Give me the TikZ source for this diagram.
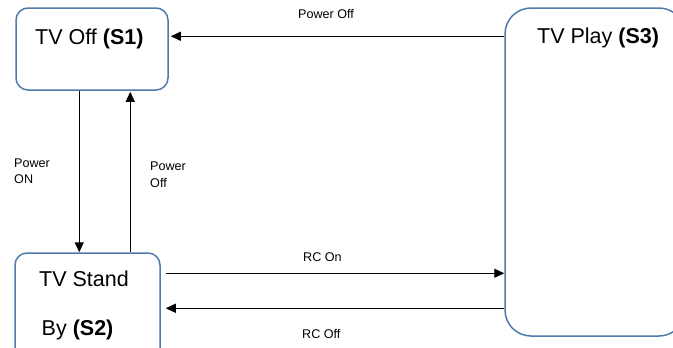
\documentclass[tikz,border=0pt]{standalone}
\usepackage{fontspec}
\setmainfont{Liberation Sans}
\usetikzlibrary{arrows.meta,calc}
\definecolor{boxblue}{RGB}{79,123,170}
\tikzset{
  statebox/.style={draw=boxblue,line width=1.5pt,rounded corners=12pt,inner sep=0pt},
  trans/.style={-{Triangle[length=10pt,width=9pt]},line width=1.4pt},
  bigtext/.style={inner sep=0pt,font=\fontsize{21.5}{26}\selectfont},
  smalltext/.style={inner sep=0pt,align=left,font=\fontsize{12.6}{16.4}\selectfont}
}
\begin{document}
\begin{tikzpicture}[x=1pt,y=-1pt]
\useasboundingbox (0,0) rectangle (673,348);
% states
\node[statebox,minimum width=152pt,minimum height=82pt] (s1) at (92,49) {};
\node[statebox,minimum width=145pt,minimum height=110pt] (s2) at (87.5,308) {};
\node[statebox,rounded corners=26pt,minimum width=180pt,minimum height=328pt] (s3) at (595,172) {};
\node[bigtext,anchor=base west] (s1name) at (35,44) {TV Off \textbf{(S1)}};
\node[bigtext,anchor=base west] (s2name) at (39,286) {TV Stand};
\node[bigtext,anchor=base west] (s2name2) at (41.5,335) {By \textbf{(S2)}};
\node[bigtext,anchor=base west] (s3name) at (537,43.5) {TV Play \textbf{(S3)}};

% transitions
\coordinate (offtop) at ($(s3.north west)+(0,29)$);
\draw[trans,shorten >=2pt] (offtop) -- (offtop -| s1.east);
\coordinate (onsrc) at ($(s1.south west)+(64,0)$);
\draw[trans] (onsrc) -- (onsrc |- s2.north);
\coordinate (offsrc) at ($(s2.north west)+(116,0)$);
\draw[trans,shorten >=1pt] (offsrc) -- (offsrc |- s1.south);
\coordinate (rconsrc) at ($(s2.north east)+(5,21)$);
\draw[trans] (rconsrc) -- (rconsrc -| s3.west);
\coordinate (rcoffsrc) at ($(s3.north west)+(0,301)$);
\draw[trans,shorten >=5pt] (rcoffsrc) -- (rcoffsrc -| s2.east);

% labels
\node[smalltext,anchor=base west] (offtoplab) at (298,19) {Power Off};
\node[smalltext,anchor=north west] (onlab) at (14,158.5) {Power\\ON};
\node[smalltext,anchor=north west] (offlab) at (150,162) {Power\\Off};
\node[smalltext,anchor=base west] (rconlab) at (303,261.5) {RC On};
\node[smalltext,anchor=base west] (rcofflab) at (302,338) {RC Off};

\end{tikzpicture}
\end{document}
